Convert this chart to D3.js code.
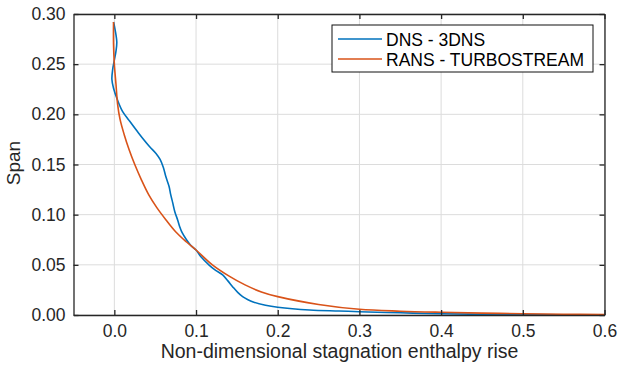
<!DOCTYPE html>
<html>
<head>
    <title>Span vs stagnation enthalpy rise</title>
    <script src="https://cdn.jsdelivr.net/npm/d3@7"></script>
</head>
<body style="margin: 0; background: #fff">
<svg width="618" height="368"></svg>

<script>
    // DNS - 3DNS profile: [enthalpy rise, span]
    const dnsX = [-0.001, 0.001, 0.003, 0.002, 0.0, -0.002, -0.003, -0.001, 0.004, 0.010, 0.018, 0.030,
        0.043, 0.051, 0.056, 0.060, 0.063, 0.067, 0.069, 0.0714, 0.074, 0.0775, 0.080, 0.083, 0.0885,
        0.094, 0.100, 0.106, 0.116, 0.124, 0.1326, 0.139, 0.145, 0.151, 0.157, 0.163, 0.170, 0.185,
        0.200, 0.239, 0.275, 0.300, 0.350, 0.400, 0.450, 0.500, 0.600];
    const dnsSpan = [0.292, 0.284, 0.272, 0.263, 0.254, 0.245, 0.235, 0.226, 0.214, 0.203, 0.194, 0.181,
        0.168, 0.161, 0.155, 0.147, 0.138, 0.128, 0.120, 0.112, 0.103, 0.0947, 0.088, 0.082, 0.0748,
        0.069, 0.0648, 0.058, 0.0498, 0.0445, 0.0399, 0.034, 0.028, 0.0225, 0.0183, 0.0155, 0.0130, 0.0098,
        0.0078, 0.0050, 0.0040, 0.0033, 0.0022, 0.0012, 0.0007, 0.0004, 0.0002];

    // RANS - TURBOSTREAM profile
    const ransX = [-0.001, -0.001, 0.0, 0.002, 0.004, 0.007, 0.012, 0.018, 0.025, 0.033, 0.042, 0.052,
        0.063, 0.075, 0.088, 0.100, 0.120, 0.140, 0.160, 0.180, 0.200, 0.250, 0.300, 0.350, 0.400,
        0.450, 0.500, 0.550, 0.600];
    const ransSpan = [0.292, 0.270, 0.250, 0.230, 0.210, 0.195, 0.180, 0.165, 0.150, 0.135, 0.120, 0.107,
        0.095, 0.083, 0.073, 0.0648, 0.050, 0.039, 0.030, 0.023, 0.0183, 0.0105, 0.0057, 0.0038, 0.0027,
        0.0019, 0.0013, 0.0008, 0.0005];

    const xTicks = [0.0, 0.1, 0.2, 0.3, 0.4, 0.5, 0.6];
    const yTicks = [0.00, 0.05, 0.10, 0.15, 0.20, 0.25, 0.30];

    const series = [
        { name: "DNS - 3DNS", color: "#0072BD", xs: dnsX, ys: dnsSpan },
        { name: "RANS - TURBOSTREAM", color: "#D95319", xs: ransX, ys: ransSpan }
    ];

    const svg = d3.select("svg");
    const font = "'Liberation Sans', Arial, sans-serif";
    const ink = "#262626";

    const plotLeft = 73.5, plotRight = 604.5, plotTop = 14, plotBottom = 315;

    const x = d3.scaleLinear().domain([-0.05, 0.6]).range([plotLeft, plotRight]);
    const y = d3.scaleLinear().domain([0, 0.3]).range([plotBottom, plotTop]);

    // grid
    svg.append("g")
        .selectAll("line")
        .data(xTicks)
        .enter().append("line")
        .attr("x1", d => x(d)).attr("x2", d => x(d))
        .attr("y1", plotTop).attr("y2", plotBottom)
        .attr("stroke", "#dcdcdc").attr("stroke-width", 1);

    svg.append("g")
        .selectAll("line")
        .data(yTicks)
        .enter().append("line")
        .attr("x1", plotLeft).attr("x2", plotRight)
        .attr("y1", d => y(d)).attr("y2", d => y(d))
        .attr("stroke", "#dcdcdc").attr("stroke-width", 1);

    // curves
    const line = d3.line()
        .x(d => x(d[0]))
        .y(d => y(d[1]))
        .curve(d3.curveCatmullRom.alpha(0.5));

    svg.append("g")
        .selectAll("path")
        .data(series)
        .enter().append("path")
        .attr("d", d => line(d.xs.map((v, i) => [v, d.ys[i]])))
        .attr("fill", "none")
        .attr("stroke", d => d.color)
        .attr("stroke-width", 1.6);

    // axes (ticks inside, box on)
    const tickLen = 5;
    const styleAxis = g => {
        g.select(".domain").attr("stroke", ink).attr("stroke-width", 1.3);
        g.selectAll(".tick line").attr("stroke", ink).attr("stroke-width", 1.3);
        g.selectAll("text").attr("fill", ink).attr("font-family", font).attr("font-size", "17.5px");
    };

    svg.append("g")
        .attr("transform", `translate(0,${plotBottom})`)
        .call(d3.axisBottom(x).tickValues(xTicks).tickFormat(d3.format(".1f"))
            .tickSizeInner(-tickLen).tickSizeOuter(0).tickPadding(10))
        .call(styleAxis);

    svg.append("g")
        .attr("transform", `translate(0,${plotTop})`)
        .call(d3.axisTop(x).tickValues(xTicks).tickFormat("")
            .tickSizeInner(-tickLen).tickSizeOuter(0))
        .call(styleAxis);

    svg.append("g")
        .attr("transform", `translate(${plotLeft},0)`)
        .call(d3.axisLeft(y).tickValues(yTicks).tickFormat(d3.format(".2f"))
            .tickSizeInner(-tickLen).tickSizeOuter(0).tickPadding(8))
        .call(styleAxis);

    svg.append("g")
        .attr("transform", `translate(${plotRight},0)`)
        .call(d3.axisRight(y).tickValues(yTicks).tickFormat("")
            .tickSizeInner(-tickLen).tickSizeOuter(0))
        .call(styleAxis);

    // axis labels
    svg.append("text")
        .attr("x", 339.5)
        .attr("y", 358)
        .attr("text-anchor", "middle")
        .attr("font-family", font)
        .attr("font-size", "19.5px")
        .attr("fill", ink)
        .text("Non-dimensional stagnation enthalpy rise");

    svg.append("text")
        .attr("transform", `translate(20,163) rotate(-90)`)
        .attr("text-anchor", "middle")
        .attr("font-family", font)
        .attr("font-size", "19px")
        .attr("fill", ink)
        .text("Span");

    // legend
    const legend = svg.append("g").attr("transform", "translate(332,25)");
    legend.append("rect")
        .attr("width", 261).attr("height", 47)
        .attr("fill", "#fff")
        .attr("stroke", "#111").attr("stroke-width", 1);

    const items = legend.selectAll(".item")
        .data(series)
        .enter().append("g")
        .attr("transform", (d, i) => `translate(0,${14 + i * 20})`);

    items.append("line")
        .attr("x1", 6).attr("x2", 50)
        .attr("stroke", d => d.color).attr("stroke-width", 1.6);

    items.append("text")
        .attr("x", 54).attr("y", 6.5)
        .attr("font-family", font)
        .attr("font-size", "17.5px")
        .attr("fill", "#000")
        .text(d => d.name);
</script>
</body>
</html>
